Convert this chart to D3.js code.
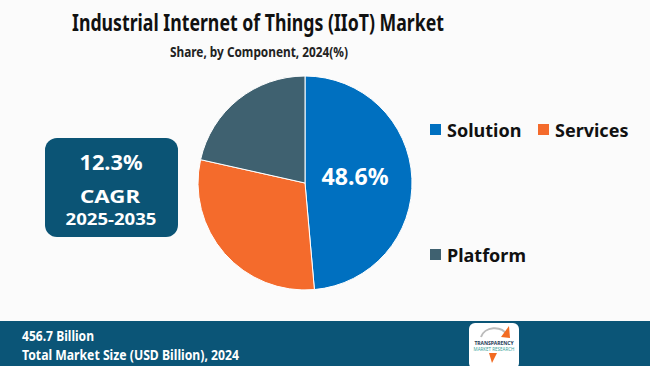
<!DOCTYPE html>
<html lang="en">
<head>
<meta charset="UTF-8">
<script src="https://d3js.org/d3.v7.min.js"></script>
<style>
body { margin: 0; background: #fbfbfb; }
svg { display: block; font-family: "Noto Sans", sans-serif; }
</style>
</head>
<body>
<svg width="650" height="366"></svg>
<script>
// data
const segments = ["Solution", "Services", "Platform"];
const shares = [48.6, 29.9, 21.5];
const colors = ["#0070c0", "#f46b2c", "#3f6170"];
const cagr = "12.3%";
const cagrPeriod = "2025-2035";
const marketSize = "456.7 Billion";

const svg = d3.select("svg");
const W = 650, H = 366;

svg.append("rect").attr("width", W).attr("height", H).attr("fill", "#fbfbfb");

// helper: text squeezed to the width seen in the picture
function label(x, y, str, size, width, fill, anchor) {
  return svg.append("text")
    .attr("x", x).attr("y", y)
    .attr("text-anchor", anchor || "start")
    .attr("font-size", size).attr("font-weight", "bold").attr("fill", fill)
    .attr("textLength", width).attr("lengthAdjust", "spacingAndGlyphs")
    .text(str);
}

// title
label(258, 31, "Industrial Internet of Things (IIoT) Market", 23, 372, "#111", "middle");
label(259, 57, "Share, by Component, 2024(%)", 13.5, 178, "#222", "middle");

// pie
const pie = d3.pie().sort(null).value(d => d.v);
const arc = d3.arc().innerRadius(0).outerRadius(107);
const data = segments.map((s, i) => ({ name: s, v: shares[i], c: colors[i] }));

const g = svg.append("g").attr("transform", "translate(305,183)");
g.selectAll("path")
  .data(pie(data))
  .enter().append("path")
  .attr("d", arc)
  .attr("fill", d => d.data.c)
  .attr("stroke", "#fff")
  .attr("stroke-width", 1);

// only the largest slice is labelled
g.append("text")
  .attr("x", 50).attr("y", 2)
  .attr("text-anchor", "middle")
  .attr("font-size", 23).attr("font-weight", "bold").attr("fill", "#fff")
  .attr("textLength", 67).attr("lengthAdjust", "spacingAndGlyphs")
  .text(shares[0].toFixed(1) + "%");

// legend
const legendPos = [[430, 124], [538, 124], [430, 249]];
const lg = svg.append("g").selectAll("g")
  .data(data)
  .enter().append("g")
  .attr("transform", (d, i) => `translate(${legendPos[i][0]},${legendPos[i][1]})`);
lg.append("rect").attr("width", 11).attr("height", 11).attr("fill", d => d.c);
lg.append("text")
  .attr("x", 17).attr("y", 13)
  .attr("font-size", 18).attr("font-weight", "bold").attr("fill", "#111")
  .text(d => d.name);

// CAGR box
svg.append("rect")
  .attr("x", 45).attr("y", 138).attr("width", 133).attr("height", 99)
  .attr("rx", 12).attr("fill", "#0b5475");
label(111, 170, cagr, 22, 63, "#fff", "middle");
label(110, 203, "CAGR", 18, 60, "#fff", "middle");
label(111, 225, cagrPeriod, 15.5, 91, "#fff", "middle");

// footer band
svg.append("rect").attr("x", 0).attr("y", 321).attr("width", W).attr("height", 45).attr("fill", "#0b5577");
label(22, 341, marketSize, 14, 72, "#fff");
label(22, 360, "Total Market Size (USD Billion), 2024", 14, 217, "#fff");

// logo
const logo = svg.append("g").attr("transform", "translate(469,323)");
logo.append("rect").attr("width", 50).attr("height", 46).attr("rx", 6).attr("fill", "#fff");
logo.append("path").attr("d", "M12,14 A14,12 0 0 1 38,12").attr("fill", "none").attr("stroke", "#bbb").attr("stroke-width", 2);
logo.append("path").attr("d", "M32,14 L40,3 L41,15 Z").attr("fill", "#f26b22");
logo.append("path").attr("d", "M20,30 L28,30 L23,40 Z").attr("fill", "#f26b22");
logo.append("text").attr("x", 25).attr("y", 22).attr("text-anchor", "middle")
  .attr("font-size", 5).attr("font-weight", "bold").attr("fill", "#1f3b57").text("TRANSPARENCY");
logo.append("text").attr("x", 25).attr("y", 28).attr("text-anchor", "middle")
  .attr("font-size", 4.5).attr("fill", "#3aa39a").text("MARKET RESEARCH");
</script>
</body>
</html>
